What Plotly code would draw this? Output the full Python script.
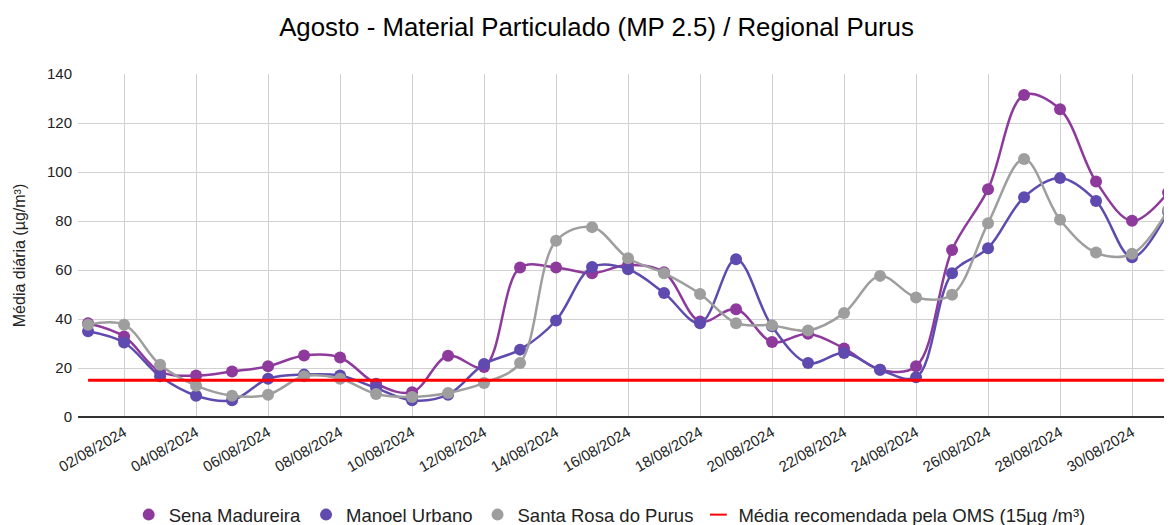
import plotly.graph_objects as go

dates = [f"{d:02d}/08/2024" for d in range(1, 32)]
sena = [38.3, 32.9, 18.5, 16.9, 18.6, 20.7, 25.1, 24.3, 13.6, 10.1, 25.0, 20.4, 61.0, 61.0, 58.7, 62.0,
        59.1, 39.0, 44.0, 30.6, 34.0, 28.0, 19.3, 20.7, 68.2, 93.0, 131.4, 125.6, 96.1, 80.1, 91.6]
manoel = [35.0, 30.4, 16.6, 8.7, 6.8, 15.6, 17.3, 16.9, 11.8, 6.8, 9.1, 21.6, 27.5, 39.4, 61.2, 60.3,
          50.6, 38.3, 64.4, 37.0, 22.0, 26.1, 19.3, 16.2, 58.7, 68.9, 89.7, 97.5, 88.2, 65.2, 83.9]
santa = [37.7, 37.7, 21.3, 12.8, 8.7, 9.1, 16.6, 15.6, 9.4, 8.2, 9.8, 13.9, 22.0, 71.9, 77.5, 64.8,
         58.7, 50.2, 38.3, 37.4, 35.3, 42.4, 57.6, 48.8, 49.9, 79.1, 105.3, 80.5, 67.1, 66.6, 84.5]
oms = [15] * 31
tick_labels = dates[1::2]

series = [
    ("Sena Madureira", sena, "#8E3A9C"),
    ("Manoel Urbano", manoel, "#5F4BAF"),
    ("Santa Rosa do Purus", santa, "#9E9E9E"),
]

FONT = "Liberation Sans, Arial, sans-serif"
fig = go.Figure()
for name, vals, col in series:
    fig.add_trace(go.Scatter(x=dates, y=vals, mode="lines+markers", name=name,
                             line=dict(color=col, width=2.5, shape="spline", smoothing=1.0),
                             marker=dict(color=col, size=12), showlegend=False))
fig.add_trace(go.Scatter(x=dates, y=oms, mode="lines", name="Média recomendada pela OMS (15µg /m³)",
                         line=dict(color="#FF0000", width=3), showlegend=False))
# legend entries
for name, vals, col in series:
    fig.add_trace(go.Scatter(x=[None], y=[None], mode="markers", name=name,
                             marker=dict(color=col, size=14)))
fig.add_trace(go.Scatter(x=[None], y=[None], mode="markers", name="Média recomendada pela OMS (15µg /m³)",
                         marker=dict(symbol="line-ew", size=17, line=dict(color="#FF0000", width=5))))

# page body has an 8px margin, so the figure is drawn 8px smaller and offset
fig.update_layout(
    width=1164, height=517,
    margin=dict(l=70, r=0, t=66, b=108, autoexpand=False),
    paper_bgcolor="white", plot_bgcolor="white",
    font=dict(family=FONT, size=15, color="#222222"),
    title=dict(text="Agosto - Material Particulado (MP 2.5) / Regional Purus",
               x=0.5056, xanchor="center", y=0.963, yanchor="middle",
               font=dict(size=25.8, color="#000000")),
    legend=dict(orientation="h", x=0.486, xanchor="center", y=-0.286, yanchor="middle",
                font=dict(size=18.5, color="#222222"), itemsizing="constant"),
    xaxis=dict(type="category", range=[-0.28, 30.11], tickmode="array", automargin=False,
               tickvals=tick_labels, ticktext=tick_labels, tickangle=-30, ticklabelstandoff=3,
               showgrid=True, gridcolor="#D0D0D0", gridwidth=1, ticks="",
               tickfont=dict(size=15, color="#222222"), showline=False, zeroline=False),
    yaxis=dict(range=[0, 140], dtick=20, showgrid=True, gridcolor="#D0D0D0", gridwidth=1,
               automargin=False, ticklabelstandoff=5,
               zeroline=True, zerolinecolor="#333333", zerolinewidth=1.5,
               tickfont=dict(size=15, color="#222222")),
    annotations=[dict(text="Média diária (µg/m³)", textangle=-90, xref="paper", yref="paper",
                      x=-0.0532, y=0.471, xanchor="center", yanchor="middle", showarrow=False,
                      font=dict(size=16, color="#222222"))],
)
fig.write_html("out.html")
